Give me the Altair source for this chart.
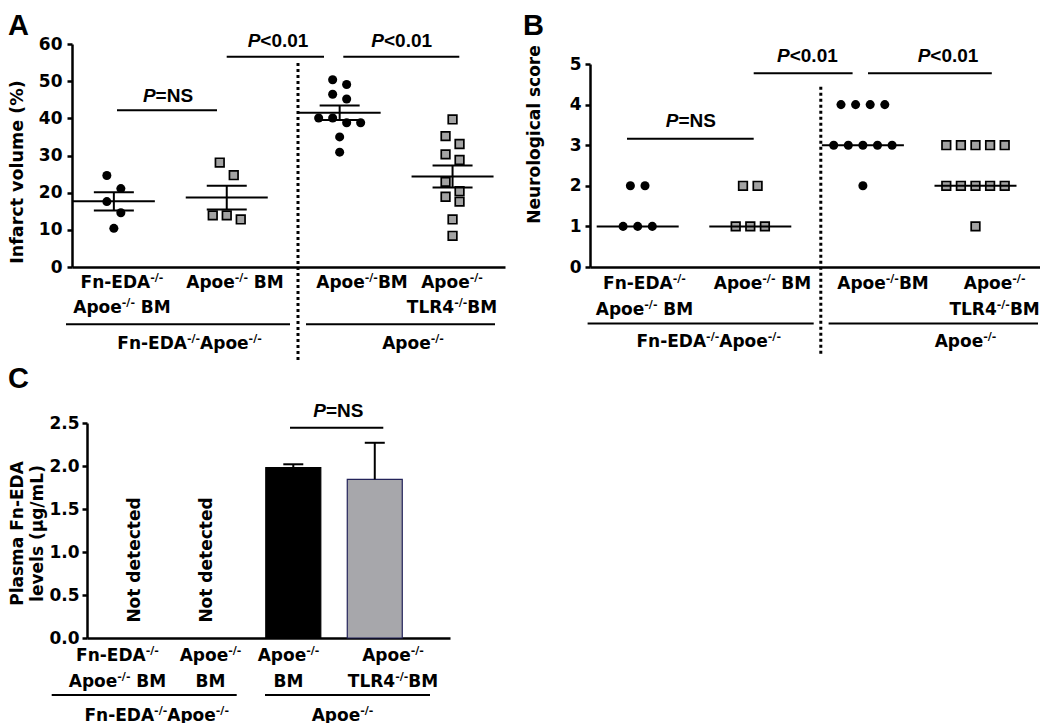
import altair as alt
import pandas as pd
import numpy as np

# ===================== DATA =====================
GROUPS = [1, 2, 3, 4]
SHAPES = ["circle", "square", "circle", "square"]

# Panel A: infarct volume (%)
infarct_g1 = [24.6, 21.1, 17.6, 14.6, 10.4]
infarct_g2 = [28.1, 24.7, 13.9, 12.8, 13.9]
infarct_g3 = [50.4, 49.1, 46.5, 45.2, 40.1, 40.1, 38.8, 38.8, 35.0, 30.9]
infarct_g4 = [39.7, 35.2, 33.1, 30.3, 28.8, 22.9, 20.4, 18.9, 17.6, 12.8, 8.4]

# Panel B: neurological score
score_g1 = [2, 2, 1, 1, 1]
score_g2 = [2, 2, 1, 1, 1]
score_g3 = [4, 4, 4, 4, 3, 3, 3, 3, 3, 2]
score_g4 = [3, 3, 3, 3, 3, 2, 2, 2, 2, 2, 1]

# Panel C: plasma Fn-EDA (µg/mL), only groups 3 and 4 detected
plasma_groups = [3, 4]
plasma_mean = [1.98, 1.845]
plasma_sem = [0.04, 0.425]
plasma_colors = ["#000000", "#a7a7ab"]
plasma_strokes = ["#000000", "#23235a"]
not_detected_text = "Not detected"

# Text (^...^ = superscript, *...* = italic)
labels_AB = [["Fn-EDA^-/-^", "Apoe^-/-^ BM"], ["Apoe^-/-^ BM"], ["Apoe^-/-^BM"], ["Apoe^-/-^", "TLR4^-/-^BM"]]
labels_C = [["Fn-EDA^-/-^", "Apoe^-/-^ BM"], ["Apoe^-/-^", "BM"], ["Apoe^-/-^", "BM"], ["Apoe^-/-^", "TLR4^-/-^BM"]]
group_texts = ["Fn-EDA^-/-^Apoe^-/-^", "Apoe^-/-^"]
p_texts_A = ["*P*=NS", "*P*<0.01", "*P*<0.01"]
p_texts_B = ["*P*=NS", "*P*<0.01", "*P*<0.01"]
p_texts_C = ["*P*=NS"]
y_titles = ["Infarct volume (%)", "Neurological score", ["Plasma Fn-EDA", "levels (µg/mL)"]]
y_ticks_A = [0, 10, 20, 30, 40, 50, 60]
y_ticks_B = [0, 1, 2, 3, 4, 5]
y_ticks_C = [0, 0.5, 1.0, 1.5, 2.0, 2.5]

# ===================== LAYOUT (page pixels) =====================
FONT = "DejaVu Sans"
PFONT = "Liberation Sans"
LAB_SIZE, SUP_SIZE, SUP_RAISE = 17, 11, 7
P_SIZE = 19

PA = dict(x0page=72, xd0=0.6293, ux=112.9, y0page=267, uy=223 / 60.0)
PB = dict(x0page=590, xd0=0.5764, ux=112.6, y0page=267, uy=40.6)
PC = dict(x0page=87, xd0=0.4682, ux=81.48, y0page=638, uy=86.0)


def X(p, px):
    return p["xd0"] + (px - p["x0page"]) / p["ux"]


def Y(p, py):
    return (p["y0page"] - py) / p["uy"]


DV = {' ': 0.348, '-': 0.415, '/': 0.365, 'A': 0.774, 'B': 0.762, 'D': 0.830, 'E': 0.683,
      'F': 0.683, 'L': 0.637, 'M': 0.995, 'R': 0.770, 'T': 0.682, '4': 0.696, 'a': 0.675,
      'e': 0.678, 'n': 0.712, 'o': 0.687, 'p': 0.716}
LIB = {'P': 0.667, '=': 0.584, '<': 0.584, 'N': 0.722, 'S': 0.667, '0': 0.556, '.': 0.278, '1': 0.556}


def tw(s, size, table):
    return sum(table.get(c, 0.65) for c in s) * size


def parse(label, mark):
    parts = label.split(mark)
    return [(t, i % 2 == 1) for i, t in enumerate(parts) if t]


def label_rows(p, label, cx, base_y):
    segs = parse(label, "^")
    sizes = [SUP_SIZE if s else LAB_SIZE for _, s in segs]
    total = sum(tw(t, fs, DV) for (t, _), fs in zip(segs, sizes))
    x = cx - total / 2
    rows = []
    for (t, sup), fs in zip(segs, sizes):
        stripped = t.lstrip(" ")
        x += tw(t[: len(t) - len(stripped)], fs, DV)
        rows.append(dict(x=X(p, x), y=Y(p, base_y - (SUP_RAISE if sup else 0)), text=stripped, size=fs))
        x += tw(stripped, fs, DV)
    return rows


def p_rows(p, label, cx, base_y):
    segs = parse(label, "*")
    total = sum(tw(t, P_SIZE, LIB) for t, _ in segs)
    x = cx - total / 2
    rows = []
    for t, it in segs:
        rows.append(dict(x=X(p, x), y=Y(p, base_y), text=t, italic=it))
        x += tw(t, P_SIZE, LIB)
    return rows


def cluster_offsets(values, uy, thresh_px, spacing_px):
    order = sorted(range(len(values)), key=lambda i: -values[i])
    clusters = []
    for i in order:
        if clusters and (values[clusters[-1][0]] - values[i]) * uy < thresh_px:
            clusters[-1].append(i)
        else:
            clusters.append([i])
    offs = [0.0] * len(values)
    for cl in clusters:
        n = len(cl)
        for j, i in enumerate(cl):
            offs[i] = (j - (n - 1) / 2) * spacing_px
    return offs


# ===================== COMMON ENCODING HELPERS =====================
xaxis = alt.Axis(labels=False, ticks=False, title=None, grid=False, domainWidth=2.5, domainColor="black")


def make_enc(p, xdom, ydom, yaxis, xrange=None, yrange=None):
    sx = alt.Scale(domain=xdom, nice=False, zero=False, **({"range": xrange} if xrange else {}))
    sy = alt.Scale(domain=ydom, nice=False, zero=False, **({"range": yrange} if yrange else {}))

    def ex(f="x"):
        return alt.X(f"{f}:Q", scale=sx, axis=xaxis)

    def ey(f="y"):
        return alt.Y(f"{f}:Q", scale=sy, axis=yaxis)
    return ex, ey


def rules_layer(df, ex, ey, width=2, dash=None, color="black"):
    kw = dict(color=color, strokeWidth=width)
    if dash:
        kw["strokeDash"] = dash
    if "x2" in df.columns:
        enc = dict(x=ex("x"), x2="x2:Q", y=ey("y"))
    else:
        enc = dict(x=ex("x"), y=ey("y"), y2="y2:Q")
    return alt.Chart(df).mark_rule(**kw).encode(**enc)


def text_layers(rows, ex, ey):
    df = pd.DataFrame(rows)
    return alt.Chart(df).mark_text(font=FONT, fontWeight="bold", align="left", baseline="alphabetic",
                                   color="black").encode(
        x=ex("x"), y=ey("y"), text="text:N", size=alt.Size("size:Q", scale=None, legend=None))


def p_layers(rows, ex, ey):
    df = pd.DataFrame(rows)
    base = dict(font=PFONT, fontWeight="bold", align="left", baseline="alphabetic", color="black",
                fontSize=P_SIZE)
    it = alt.Chart(df[df.italic]).mark_text(fontStyle="italic", **base).encode(
        x=ex("x"), y=ey("y"), text="text:N")
    nm = alt.Chart(df[~df.italic]).mark_text(**base).encode(x=ex("x"), y=ey("y"), text="text:N")
    return [it, nm]


def points_layers(groups_vals, p, ex, ey, thresh, spacing):
    rows = []
    for g, vals, shp in zip(GROUPS, groups_vals, SHAPES):
        offs = cluster_offsets(vals, p["uy"], thresh, spacing)
        for v, o in zip(vals, offs):
            rows.append(dict(x=g + o / p["ux"], y=v, shape=shp))
    df = pd.DataFrame(rows)
    circ = alt.Chart(df[df["shape"] == "circle"]).mark_circle(size=82, color="black", opacity=1).encode(
        x=ex("x"), y=ey("y"))
    sq = alt.Chart(df[df["shape"] == "square"]).mark_point(
        shape="square", filled=True, fill="#a3a3a3", stroke="black", strokeWidth=1.7, size=74,
        opacity=1).encode(x=ex("x"), y=ey("y"))
    return [circ, sq]


def annot_common(p, ex, ey, labels, centers, row_y, sig, p_labels, p_pos, glines, gcenters, g_y):
    layers = []
    layers.append(rules_layer(pd.DataFrame([dict(x=X(p, a), x2=X(p, b), y=Y(p, yy)) for a, b, yy in sig]), ex, ey))
    layers.append(rules_layer(pd.DataFrame([dict(x=X(p, a), x2=X(p, b), y=Y(p, yy)) for a, b, yy in glines]), ex, ey))
    rows = []
    for lab, cx in zip(labels, centers):
        for k, line in enumerate(lab):
            rows += label_rows(p, line, cx, row_y[k])
    for gt, cx in zip(group_texts, gcenters):
        rows += label_rows(p, gt, cx, g_y)
    layers.append(text_layers(rows, ex, ey))
    prow = []
    for t, (cx, by) in zip(p_labels, p_pos):
        prow += p_rows(p, t, cx, by)
    layers += p_layers(prow, ex, ey)
    return layers


def letter(ch, x, y):
    return alt.Chart(pd.DataFrame({"t": [ch]})).mark_text(
        font=PFONT, fontWeight="bold", fontSize=29, align="left", baseline="top", color="black").encode(
        x=alt.value(x), y=alt.value(y), text="t:N")


# ===================== PANEL A =====================
WA, HA = 433, 223
yaxis_A = alt.Axis(values=y_ticks_A, title=y_titles[0], titleX=-55, titleY=127.5, titleAngle=270,
                   titleAlign="center", titleBaseline="middle", titleFontSize=17.5, tickSize=5,
                   labelPadding=5, grid=False)
exA, eyA = make_enc(PA, [PA["xd0"], PA["xd0"] + WA / PA["ux"]], [0, 60], yaxis_A)
valsA = [infarct_g1, infarct_g2, infarct_g3, infarct_g4]
A_layers = []
A_layers.append(rules_layer(pd.DataFrame([dict(x=X(PA, 298), y=Y(PA, 63), y2=Y(PA, 360))]), exA, eyA,
                            width=3, dash=[3, 3]))
A_layers += points_layers(valsA, PA, exA, eyA, 14, 14)
mrows, srows, vrows = [], [], []
for g, v in zip(GROUPS, valsA):
    m = float(np.mean(v))
    s = float(np.std(v, ddof=1) / np.sqrt(len(v)))
    mrows.append(dict(x=g - 41 / PA["ux"], x2=g + 41 / PA["ux"], y=m))
    srows.append(dict(x=g - 20 / PA["ux"], x2=g + 20 / PA["ux"], y=m + s))
    srows.append(dict(x=g - 20 / PA["ux"], x2=g + 20 / PA["ux"], y=m - s))
    vrows.append(dict(x=g, y=m - s, y2=m + s))
A_layers.append(rules_layer(pd.DataFrame(mrows), exA, eyA))
A_layers.append(rules_layer(pd.DataFrame(srows), exA, eyA))
A_layers.append(rules_layer(pd.DataFrame(vrows), exA, eyA))
A_layers += annot_common(PA, exA, eyA, labels_AB, [122, 235, 362, 452], [288, 313.3],
                         [(117, 217, 110.3), (226.7, 324, 56.7), (343.3, 459.3, 56.7)],
                         p_texts_A, [(168, 101.5), (278, 46.7), (401.7, 46.7)],
                         [(66, 290, 324.3), (306, 495, 324.3)], [189.5, 413], 349)
A_layers.append(letter("A", -64, -32))
chartA = alt.layer(*A_layers).properties(width=WA, height=HA)

# ===================== PANEL B =====================
WB, HB = 450, 223
yaxis_B = alt.Axis(values=y_ticks_B, title=y_titles[1], titleX=-56, titleY=90, titleAngle=270,
                   titleAlign="center", titleBaseline="middle", titleFontSize=17, tickSize=5,
                   labelPadding=4, grid=False)
exB, eyB = make_enc(PB, [PB["xd0"], PB["xd0"] + WB / PB["ux"]], [0, 5], yaxis_B, yrange=[223, 20])
valsB = [score_g1, score_g2, score_g3, score_g4]
B_layers = []
B_layers.append(rules_layer(pd.DataFrame([dict(x=X(PB, 820.8), y=Y(PB, 86.7), y2=Y(PB, 355))]), exB, eyB,
                            width=3, dash=[3, 3]))
B_layers += points_layers(valsB, PB, exB, eyB, 14, 14.6)
medrows = [dict(x=g - 41 / PB["ux"], x2=g + 41 / PB["ux"], y=float(np.median(v))) for g, v in zip(GROUPS, valsB)]
B_layers.append(rules_layer(pd.DataFrame(medrows), exB, eyB))
B_layers += annot_common(PB, exB, eyB, labels_AB, [644.5, 762.5, 883, 994.6], [289, 315],
                         [(627, 753.7, 138.7), (753.7, 852.6, 73.3), (868, 991.8, 73.3)],
                         p_texts_B, [(690.8, 126.7), (807.4, 61.7), (948, 61.7)],
                         [(587.6, 813.7, 323.5), (828.6, 1038, 323.5)], [708.7, 965.5], 347)
B_layers.append(letter("B", -67, -32))
chartB = alt.layer(*B_layers).properties(width=WB, height=HB)

# ===================== PANEL C =====================
WC, HC = 378, 215
yaxis_C = alt.Axis(values=y_ticks_C, format=".1f", title=y_titles[2], titleX=-70, titleY=110,
                   titleAngle=270, titleAlign="center", titleBaseline="middle", titleFontSize=17,
                   titleLineHeight=20, tickSize=5, labelPadding=3, offset=-15, grid=False)
exC, eyC = make_enc(PC, [PC["xd0"], PC["xd0"] + 363 / PC["ux"]], [0, 2.5], yaxis_C, xrange=[15, 378])
C_layers = []
half = 27.5 / PC["ux"]
bars = pd.DataFrame(dict(x=[g - half for g in plasma_groups], x2=[g + half for g in plasma_groups],
                         y=[0.0, 0.0], y2=plasma_mean, fill=plasma_colors, stroke=plasma_strokes))
C_layers.append(alt.Chart(bars).mark_bar(strokeWidth=1.2, opacity=1).encode(
    x=exC("x"), x2="x2:Q", y=eyC("y"), y2="y2:Q",
    fill=alt.Fill("fill:N", scale=None), stroke=alt.Stroke("stroke:N", scale=None)))
err = pd.DataFrame(dict(x=plasma_groups, y=plasma_mean, y2=[m + s for m, s in zip(plasma_mean, plasma_sem)]))
C_layers.append(rules_layer(err, exC, eyC))
cap = pd.DataFrame(dict(x=[g - 10 / PC["ux"] for g in plasma_groups], x2=[g + 10 / PC["ux"] for g in plasma_groups],
                        y=[m + s for m, s in zip(plasma_mean, plasma_sem)]))
C_layers.append(rules_layer(cap, exC, eyC))
nd = pd.DataFrame(dict(x=[X(PC, 135), X(PC, 206.7)], y=[Y(PC, 560)] * 2, t=[not_detected_text] * 2))
C_layers.append(alt.Chart(nd).mark_text(font=FONT, fontWeight="bold", fontSize=17, angle=270, align="center",
                                        baseline="middle", color="black").encode(x=exC("x"), y=eyC("y"), text="t:N"))
C_layers += annot_common(PC, exC, eyC, labels_C, [117.5, 210.5, 288.5, 393], [661, 686.5],
                         [(290, 383.3, 427.7)], p_texts_C, [(338.3, 417.3)],
                         [(51.7, 236.7, 695), (265, 430, 695)], [156.7, 342.5], 721)
C_layers.append(letter("C", -64, -58))
chartC = alt.layer(*C_layers).properties(width=WC, height=HC)

chart = alt.concat(chartA, chartB, chartC, columns=2, spacing={"row": 156, "column": 85},
                   bounds="flush").properties(
    padding={"top": 4, "left": 0, "right": 0, "bottom": 0}).configure_view(stroke=None).configure_axis(
    domainColor="black", domainWidth=2.5, tickColor="black", tickWidth=2.5, labelFont=FONT,
    labelFontWeight="bold", labelFontSize=17, labelColor="black", titleFont=FONT, titleFontWeight="bold",
    titleColor="black")

chart.save("out.html", embed_options={"renderer": "svg", "actions": False})
